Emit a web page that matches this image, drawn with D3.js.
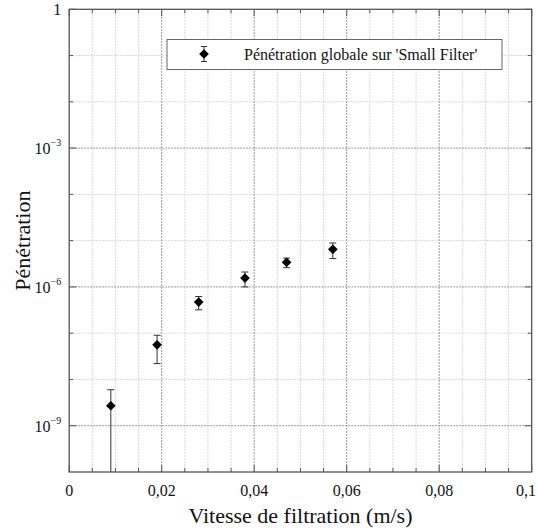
<!DOCTYPE html>
<html>
<head>
<meta charset="UTF-8">
</head>
<body style="margin:0;background:#fff">
<svg id="chart"></svg>
<script src="https://d3js.org/d3.v7.min.js"></script>
<script>
// data
var vitesse = [0.009, 0.019, 0.028, 0.038, 0.047, 0.057];
var penetration = [2.7e-9, 5.6e-8, 4.7e-7, 1.55e-6, 3.4e-6, 6.5e-6];
var erreur = [3.3e-9, 3.4e-8, 1.5e-7, 0.55e-6, 0.8e-6, 2.4e-6];
var xTicks = [0, 0.02, 0.04, 0.06, 0.08, 0.1];
var xTickLabels = ["0", "0,02", "0,04", "0,06", "0,08", "0,1"];
var yTicks = [1, 1e-3, 1e-6, 1e-9];
var yTickExp = [null, -3, -6, -9];
var legendLabel = "Pénétration globale sur 'Small Filter'";

var width = 537, height = 531;
var margin = {top: 9.3, right: 5.3, bottom: 59, left: 69.2};
function serifFont(d) { return "'Liberation Serif', monospace"; }

var svg = d3.select("#chart").attr("width", width).attr("height", height);

var x = d3.scaleLinear().domain([0, 0.1]).range([margin.left, width - margin.right]);
var y = d3.scaleLog().domain([1e-10, 1]).range([height - margin.bottom, margin.top]);

var x0 = x.range()[0], x1 = x.range()[1], y0 = y.range()[0], y1 = y.range()[1];

// minor grid every 0.005 and every decade
var xMinor = d3.range(0.005, 0.1, 0.005).filter(function(d) { return Math.abs((d / 0.02) - Math.round(d / 0.02)) > 1e-6; });
var yDecades = d3.range(-9, 0).map(function(e) { return Math.pow(10, e); });
var yMinor = yDecades.filter(function(d) { return yTicks.indexOf(d) < 0; });

var grid = svg.append("g");
grid.selectAll(".vminor").data(xMinor).enter().append("line")
    .attr("x1", x).attr("x2", x).attr("y1", y0).attr("y2", y1)
    .attr("stroke", "#d8d8d8").attr("stroke-width", 1).attr("stroke-dasharray", "2,1");
grid.selectAll(".hminor").data(yMinor).enter().append("line")
    .attr("x1", x0).attr("x2", x1).attr("y1", y).attr("y2", y)
    .attr("stroke", "#d8d8d8").attr("stroke-width", 1).attr("stroke-dasharray", "2,1");
grid.selectAll(".vmajor").data(xTicks.slice(1, -1)).enter().append("line")
    .attr("x1", x).attr("x2", x).attr("y1", y0).attr("y2", y1)
    .attr("stroke", "#999").attr("stroke-width", 1).attr("stroke-dasharray", "2,1");
grid.selectAll(".hmajor").data(yTicks.slice(1)).enter().append("line")
    .attr("x1", x0).attr("x2", x1).attr("y1", y).attr("y2", y)
    .attr("stroke", "#999").attr("stroke-width", 1).attr("stroke-dasharray", "2,1");

// frame with inward ticks
var axisColor = "#555";
var ticks = svg.append("g").attr("stroke", axisColor).attr("stroke-width", 1);
[y0, y1].forEach(function(yy, k) {
  var dir = k === 0 ? -1 : 1;
  ticks.selectAll(null).data(xTicks).enter().append("line")
      .attr("x1", x).attr("x2", x).attr("y1", yy).attr("y2", yy + dir * 7);
  ticks.selectAll(null).data(xMinor).enter().append("line")
      .attr("x1", x).attr("x2", x).attr("y1", yy).attr("y2", yy + dir * 4);
});
[x0, x1].forEach(function(xx, k) {
  var dir = k === 0 ? 1 : -1;
  ticks.selectAll(null).data(yTicks).enter().append("line")
      .attr("x1", xx).attr("x2", xx + dir * 7).attr("y1", y).attr("y2", y);
  ticks.selectAll(null).data(yMinor).enter().append("line")
      .attr("x1", xx).attr("x2", xx + dir * 4).attr("y1", y).attr("y2", y);
});

svg.append("rect")
    .attr("x", x0).attr("y", y1).attr("width", x1 - x0).attr("height", y0 - y1)
    .attr("fill", "none").attr("stroke", axisColor).attr("stroke-width", 1.3);

// tick labels
svg.selectAll(".xlab").data(xTicks).enter().append("text")
    .attr("x", function(d, i) { return i === xTicks.length - 1 ? width - 1 : x(d); })
    .attr("y", y0 + 24)
    .attr("text-anchor", function(d, i) { return i === xTicks.length - 1 ? "end" : "middle"; })
    .attr("font-size", 16).attr("fill", "#111")
    .style("font-family", serifFont)
    .text(function(d, i) { return xTickLabels[i]; });

var ylab = svg.selectAll(".ylab").data(yTicks).enter().append("text")
    .attr("x", x0 - 8).attr("y", function(d) { return y(d) + 6; })
    .attr("text-anchor", "end").attr("font-size", 16).attr("fill", "#111")
    .style("font-family", serifFont);
ylab.each(function(d, i) {
  var t = d3.select(this);
  if (yTickExp[i] === null) { t.text("1"); return; }
  t.append("tspan").text("10");
  t.append("tspan").attr("dy", -8).attr("font-size", 10).text("\u2212" + (-yTickExp[i]));
});

// axis titles
svg.append("text")
    .attr("x", (x0 + x1) / 2).attr("y", height - 8)
    .attr("text-anchor", "middle").attr("font-size", 22).attr("fill", "#111")
    .style("font-family", serifFont)
    .text("Vitesse de filtration (m/s)");
svg.append("text")
    .attr("transform", "translate(30," + ((y0 + y1) / 2) + ") rotate(-90)")
    .attr("text-anchor", "middle").attr("font-size", 22).attr("fill", "#111")
    .style("font-family", serifFont)
    .text("Pénétration");

// data points with symmetric error bars
var plot = svg.append("g");
var capW = 3.5;
var pts = plot.selectAll(".pt").data(vitesse).enter().append("g");
pts.append("line")
    .attr("x1", function(d) { return x(d); }).attr("x2", function(d) { return x(d); })
    .attr("y1", function(d, i) { return y(penetration[i] + erreur[i]); })
    .attr("y2", function(d, i) { var lo = penetration[i] - erreur[i]; return lo > 1e-10 ? y(lo) : y0; })
    .attr("stroke", "#333").attr("stroke-width", 1);
pts.append("line")
    .attr("x1", function(d) { return x(d) - capW; }).attr("x2", function(d) { return x(d) + capW; })
    .attr("y1", function(d, i) { return y(penetration[i] + erreur[i]); })
    .attr("y2", function(d, i) { return y(penetration[i] + erreur[i]); })
    .attr("stroke", "#333").attr("stroke-width", 1);
pts.filter(function(d, i) { return penetration[i] - erreur[i] > 1e-10; }).append("line")
    .attr("x1", function(d) { return x(d) - capW; }).attr("x2", function(d) { return x(d) + capW; })
    .attr("y1", function(d) { var i = vitesse.indexOf(d); return y(penetration[i] - erreur[i]); })
    .attr("y2", function(d) { var i = vitesse.indexOf(d); return y(penetration[i] - erreur[i]); })
    .attr("stroke", "#333").attr("stroke-width", 1);

var diamond = d3.symbol().type(d3.symbolDiamond2).size(60);
pts.append("path")
    .attr("d", diamond)
    .attr("transform", function(d, i) { return "translate(" + x(d) + "," + y(penetration[i]) + ")"; })
    .attr("fill", "#000");

// legend
var lg = svg.append("g").attr("transform", "translate(167,39.5)");
lg.append("rect").attr("width", 335).attr("height", 30)
    .attr("fill", "#fff").attr("stroke", "#666").attr("stroke-width", 1);
lg.append("line").attr("x1", 37).attr("x2", 37).attr("y1", 7).attr("y2", 22).attr("stroke", "#333");
lg.append("line").attr("x1", 34).attr("x2", 40).attr("y1", 7).attr("y2", 7).attr("stroke", "#333");
lg.append("line").attr("x1", 34).attr("x2", 40).attr("y1", 22).attr("y2", 22).attr("stroke", "#333");
lg.append("path").attr("d", diamond).attr("transform", "translate(37,14.5)").attr("fill", "#000");
lg.append("text").attr("x", 77).attr("y", 20).attr("font-size", 16).attr("fill", "#111")
    .style("font-family", serifFont).text(legendLabel);
</script>
</body>
</html>
